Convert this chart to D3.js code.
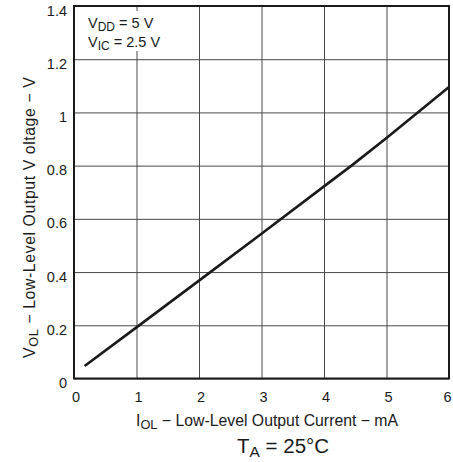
<!DOCTYPE html>
<html>
<head>
<meta charset="utf-8">
<script src="https://cdn.jsdelivr.net/npm/d3@7"></script>
<style>
  html, body { margin: 0; padding: 0; background: #fff; }
  svg { display: block; }
  text { font-family: "Liberation Sans", Arial, Helvetica, sans-serif; fill: #1a1a1a; }
</style>
</head>
<body>
<svg id="chart" width="453" height="462"></svg>
<script>
// Low-level output voltage vs. low-level output current (TA = 25 °C)
const currentMA = [0.17, 1, 2, 3, 4, 4.44, 5, 6];
const voltageV  = [0.047, 0.192, 0.368, 0.544, 0.722, 0.8, 0.904, 1.096];

const xTicks = [0, 1, 2, 3, 4, 5, 6];
const xTickLabels = ["0", "1", "2", "3", "4", "5", "6"];
const yTicks = [0, 0.2, 0.4, 0.6, 0.8, 1.0, 1.2, 1.4];
const yTickLabels = ["0", "0.2", "0.4", "0.6", "0.8", "1", "1.2", "1.4"];

const svg = d3.select("#chart");
const plot = { left: 74, right: 449, top: 6, bottom: 378.5 };

const x = d3.scaleLinear().domain([0, 6]).range([plot.left, plot.right]);
const y = d3.scaleLinear().domain([0, 1.4]).range([plot.bottom, plot.top]);

// grid lines
const gridX = svg.append("g")
  .attr("transform", `translate(0,${plot.bottom})`)
  .call(d3.axisBottom(x).tickValues(xTicks).tickSize(-(plot.bottom - plot.top)).tickFormat(""));
const gridY = svg.append("g")
  .attr("transform", `translate(${plot.left},0)`)
  .call(d3.axisLeft(y).tickValues(yTicks).tickSize(-(plot.right - plot.left)).tickFormat(""));
[gridX, gridY].forEach(g => {
  g.select(".domain").remove();
  g.selectAll("line").attr("stroke", "#4a4a4a").attr("stroke-width", 1);
});

// condition box (masks grid behind the text)
svg.append("rect")
  .attr("x", 80).attr("y", 11).attr("width", 88).attr("height", 40)
  .attr("fill", "#fff");

const cond = svg.append("g").attr("font-size", 14.5);
const l1 = cond.append("text").attr("x", 88).attr("y", 27.5);
l1.append("tspan").text("V");
l1.append("tspan").attr("dy", 3).attr("font-size", 12).text("DD");
l1.append("tspan").attr("dy", -3).text(" = 5 V");
const l2 = cond.append("text").attr("x", 88).attr("y", 46.5);
l2.append("tspan").text("V");
l2.append("tspan").attr("dy", 3).attr("font-size", 12).text("IC");
l2.append("tspan").attr("dy", -3).text(" = 2.5 V");

// curve
const line = d3.line().x((d, i) => x(currentMA[i])).y(d => y(d));
svg.append("path")
  .datum(voltageV)
  .attr("fill", "none")
  .attr("stroke", "#1a1a1a")
  .attr("stroke-width", 2.6)
  .attr("stroke-linejoin", "round")
  .attr("d", line);

// frame
svg.append("rect")
  .attr("x", plot.left).attr("y", plot.top)
  .attr("width", plot.right - plot.left).attr("height", plot.bottom - plot.top)
  .attr("fill", "none").attr("stroke", "#1a1a1a").attr("stroke-width", 2);

// tick labels
const xAxis = svg.append("g")
  .attr("transform", `translate(1.5,${plot.bottom})`)
  .call(d3.axisBottom(x).tickValues(xTicks).tickSize(0).tickFormat((d, i) => xTickLabels[i]));
xAxis.select(".domain").remove();
xAxis.selectAll("text")
  .attr("dy", null).attr("y", 23.5)
  .attr("x", (d, i) => (i === xTicks.length - 1 ? -3.5 : 0))
  .attr("font-size", 14.5).attr("fill", "#1a1a1a");

const yAxis = svg.append("g")
  .attr("transform", `translate(${plot.left},0)`)
  .call(d3.axisLeft(y).tickValues(yTicks).tickSize(0).tickFormat((d, i) => yTickLabels[i]));
yAxis.select(".domain").remove();
yAxis.selectAll("text").attr("dy", null).attr("x", -7).attr("y", 9).attr("font-size", 14.5).attr("fill", "#1a1a1a");

// axis titles
const xt = svg.append("text").attr("x", 136).attr("y", 426).attr("font-size", 15.8);
xt.append("tspan").text("I");
xt.append("tspan").attr("dy", 3).attr("font-size", 12.8).text("OL");
xt.append("tspan").attr("dy", -3).text(" \u2212 Low-Level Output Current \u2212 mA");

const yt = svg.append("text")
  .attr("transform", "translate(35,358) rotate(-90)")
  .attr("font-size", 15.8)
  .attr("letter-spacing", 0.6);
yt.append("tspan").text("V");
yt.append("tspan").attr("dy", 3).attr("font-size", 12.8).text("OL");
yt.append("tspan").attr("dy", -3).text(" \u2212 Low-Level Output V oltage \u2212 V");

const tt = svg.append("text").attr("x", 237).attr("y", 453).attr("font-size", 20.5);
tt.append("tspan").text("T");
tt.append("tspan").attr("dy", 4).attr("font-size", 15.5).text("A");
tt.append("tspan").attr("dy", -4).text(" = 25\u00B0C");
</script>
</body>
</html>
